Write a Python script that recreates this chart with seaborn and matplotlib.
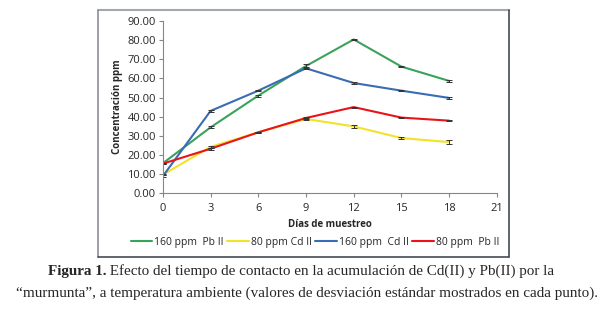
import numpy as np
import pandas as pd
import matplotlib
matplotlib.use('Agg')
import matplotlib.pyplot as plt
import seaborn as sns
from matplotlib.lines import Line2D

# datos
dias = [0, 3, 6, 9, 12, 15, 18]
series = ['160 ppm  Pb II', '80 ppm Cd II', '160 ppm  Cd II', '80 ppm  Pb II']
pb160 = [15.6, 34.4, 51.0, 66.5, 80.4, 66.2, 58.7]
cd80 = [9.6, 24.2, 31.8, 38.8, 34.9, 28.8, 26.7]
cd160 = [8.8, 43.0, 53.6, 65.3, 57.6, 53.6, 49.8]
pb80 = [15.4, 23.2, 31.8, 39.3, 45.0, 39.5, 37.9]
err_pb160 = [0.3, 0.5, 0.5, 1.0, 0.4, 0.3, 0.6]
err_cd80 = [0.3, 0.6, 0.4, 0.3, 0.6, 0.4, 1.2]
err_cd160 = [0.5, 0.5, 0.4, 0.5, 0.5, 0.3, 0.3]
err_pb80 = [0.3, 0.4, 0.3, 0.3, 0.3, 0.3, 0.3]
colores = ['#3aa35b', '#f2e22a', '#3a6cb4', '#e8141a']

valores = [pb160, cd80, cd160, pb80]
errores = [err_pb160, err_cd80, err_cd160, err_pb80]
df = pd.DataFrame({
    'dia': dias * 4,
    'conc': sum(valores, []),
    'serie': np.repeat(series, len(dias)),
})

sns.set_style('white')
plt.rcParams['font.family'] = ['Open Sans', 'DejaVu Sans']

W, H = 603, 315
fig = plt.figure(figsize=(6.03, 3.15), dpi=100)
ax = fig.add_axes([0.270, 0.387, 0.554, 0.546])

# recuadro del gráfico
fig.add_artist(Line2D([98 / W, 509 / W], [1 - 10 / H, 1 - 10 / H], color='#a3a7b2', lw=1.5))
fig.add_artist(Line2D([98 / W, 98 / W], [1 - 10 / H, 1 - 257 / H], color='#8c909a', lw=1.2))
fig.add_artist(Line2D([509 / W, 509 / W], [1 - 10 / H, 1 - 257 / H], color='#454a55', lw=1.2))
fig.add_artist(Line2D([98 / W, 509 / W], [1 - 257 / H, 1 - 257 / H], color='#454a55', lw=1.2))

sns.lineplot(data=df, x='dia', y='conc', hue='serie', hue_order=series,
             palette=colores, linewidth=1.5, ax=ax, legend=False)
for v, e in zip(valores, errores):
    ax.errorbar(dias, v, yerr=e, fmt='none', ecolor='#333333', elinewidth=0.7,
                capsize=2, capthick=0.7)

ax.set_xlim(0, 21)
ax.set_ylim(0, 90)
ax.set_xticks(range(0, 22, 3))
ax.set_yticks(range(0, 91, 10))
ax.set_yticklabels(['%.2f' % t for t in range(0, 91, 10)])
ax.tick_params(axis='both', labelsize=8, color='#868686', length=3, width=0.8,
               direction='out', pad=2, bottom=True, left=True)
ax.tick_params(axis='x', pad=4)
for s in ['top', 'right']:
    ax.spines[s].set_visible(False)
for s in ['left', 'bottom']:
    ax.spines[s].set_color('#868686')
    ax.spines[s].set_linewidth(0.8)
ax.set_xlabel('Días de muestreo', fontsize=7, fontweight='bold', labelpad=4)
ax.set_ylabel('Concentración ppm', fontsize=7, fontweight='bold', labelpad=3)

handles = [Line2D([], [], color=c, lw=1.5) for c in colores]
fig.legend(handles, series, loc='center', bbox_to_anchor=(315 / W, 1 - 242 / H),
           ncol=4, frameon=False, fontsize=7.5, handlelength=2.1, handletextpad=0.2,
           columnspacing=0.3)

# pie de figura
cap = ['Liberation Serif', 'DejaVu Serif']
fs = 10.9
t1 = fig.text(0, 1 - 271 / H, 'Figura 1.', family=cap, fontsize=fs,
              fontweight='bold', va='center', ha='left')
t2 = fig.text(0, 1 - 271 / H,
              ' Efecto del tiempo de contacto en la acumulación de Cd(II) y Pb(II) por la',
              family=cap, fontsize=fs, va='center', ha='left')
fig.canvas.draw()
w1 = t1.get_window_extent().width
w2 = t2.get_window_extent().width
x0 = (2 * 301 - w1 - w2) / 2
t1.set_x(x0 / W)
t2.set_x((x0 + w1) / W)
fig.text(307 / W, 1 - 293 / H,
         '“murmunta”, a temperatura ambiente (valores de desviación estándar mostrados en cada punto).',
         family=cap, fontsize=fs, va='center', ha='center')

fig.savefig('out.png', dpi=100)
